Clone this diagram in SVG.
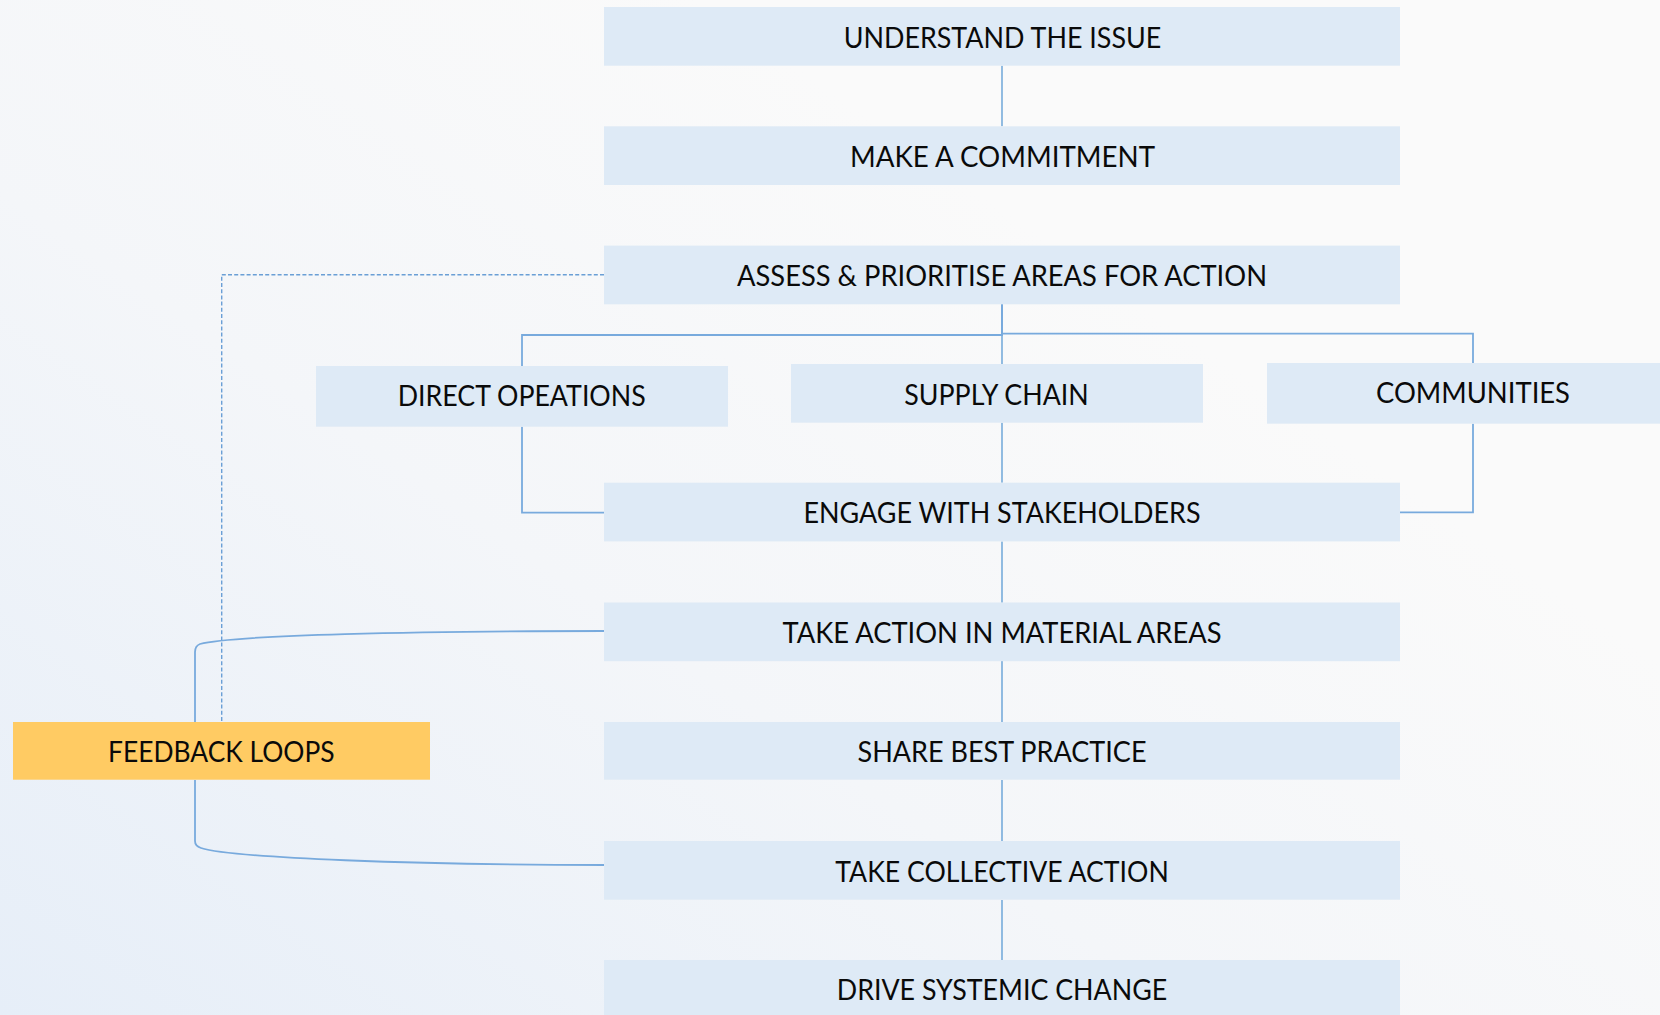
<svg xmlns="http://www.w3.org/2000/svg" width="1660" height="1015" viewBox="0 0 1660 1015">
<defs>
<linearGradient id="bg" gradientUnits="userSpaceOnUse" x1="0" y1="1015" x2="700" y2="0">
<stop offset="0" stop-color="#e6eef8"/>
<stop offset="0.55" stop-color="#f4f6f9"/>
<stop offset="1" stop-color="#fafafa"/>
</linearGradient>
<style>
.box{fill:#deeaf6}
.fb{fill:#ffcb63}
.t{font-family:Lato,"Open Sans","Liberation Sans",sans-serif;font-size:28px;fill:#0a0a0a;text-anchor:middle}
.ln{fill:none;stroke:#5b9bd5;stroke-width:1.3}
.tr{fill:none;stroke:#78aadd;stroke-width:1.8}
.dash{fill:none;stroke:#6a9fd6;stroke-width:1.4;stroke-dasharray:4 2.2}
</style>
</defs>
<rect x="0" y="0" width="1660" height="1015" fill="url(#bg)"/>
<g id="connectors">
<path class="ln" d="M1002,65.7V126.3M1002,304.3V364M1002,422.7V482.7M1002,541.4V602.7M1002,661V722M1002,780V841M1002,900V960"/>
<path class="tr" d="M1002,304.3V335H522V366"/>
<path class="tr" d="M1002,304.3V333.7H1473V363"/>
<path class="tr" d="M522,426.7V512.7H604"/>
<path class="tr" d="M1473,423.7V512.3H1400"/>
<path class="dash" d="M604,274.7H221.7V722"/>
<path class="tr" d="M604,631C420,631 232,635 200,644Q195,646 195,652V722"/>
<path class="tr" d="M195,780V841Q195,846 201,848C232,858 420,865 604,865"/>
</g>
<g id="n1"><rect class="box" x="604" y="7" width="796" height="58.7"/><text class="t" x="1002.5" y="47.7" textLength="317.6" lengthAdjust="spacingAndGlyphs">UNDERSTAND THE ISSUE</text></g>
<g id="n2"><rect class="box" x="604" y="126.3" width="796" height="58.7"/><text class="t" x="1002.5" y="167" textLength="305" lengthAdjust="spacingAndGlyphs">MAKE A COMMITMENT</text></g>
<g id="n3"><rect class="box" x="604" y="245.6" width="796" height="58.7"/><text class="t" x="1002" y="286.3" textLength="530" lengthAdjust="spacingAndGlyphs">ASSESS &amp; PRIORITISE AREAS FOR ACTION</text></g>
<g id="n4"><rect class="box" x="316" y="366" width="412" height="60.7"/><text class="t" x="521.7" y="406" textLength="248" lengthAdjust="spacingAndGlyphs">DIRECT OPEATIONS</text></g>
<g id="n5"><rect class="box" x="791" y="364" width="412" height="58.7"/><text class="t" x="996.5" y="405" textLength="184.4" lengthAdjust="spacingAndGlyphs">SUPPLY CHAIN</text></g>
<g id="n6"><rect class="box" x="1267" y="363" width="393" height="60.7"/><text class="t" x="1473" y="402.7" textLength="194" lengthAdjust="spacingAndGlyphs">COMMUNITIES</text></g>
<g id="n7"><rect class="box" x="604" y="482.7" width="796" height="58.7"/><text class="t" x="1002" y="523.3" textLength="397" lengthAdjust="spacingAndGlyphs">ENGAGE WITH STAKEHOLDERS</text></g>
<g id="n8"><rect class="box" x="604" y="602.5" width="796" height="58.7"/><text class="t" x="1002" y="643" textLength="439" lengthAdjust="spacingAndGlyphs">TAKE ACTION IN MATERIAL AREAS</text></g>
<g id="n9"><rect class="fb" x="13" y="722" width="417" height="57.7"/><text class="t" x="221.3" y="762" textLength="226.5" lengthAdjust="spacingAndGlyphs">FEEDBACK LOOPS</text></g>
<g id="n10"><rect class="box" x="604" y="722" width="796" height="57.7"/><text class="t" x="1002" y="762.3" textLength="289" lengthAdjust="spacingAndGlyphs">SHARE BEST PRACTICE</text></g>
<g id="n11"><rect class="box" x="604" y="841" width="796" height="58.7"/><text class="t" x="1002" y="881.5" textLength="333.5" lengthAdjust="spacingAndGlyphs">TAKE COLLECTIVE ACTION</text></g>
<g id="n12"><rect class="box" x="604" y="960" width="796" height="58.7"/><text class="t" x="1002" y="1000" textLength="330.5" lengthAdjust="spacingAndGlyphs">DRIVE SYSTEMIC CHANGE</text></g>
</svg>
